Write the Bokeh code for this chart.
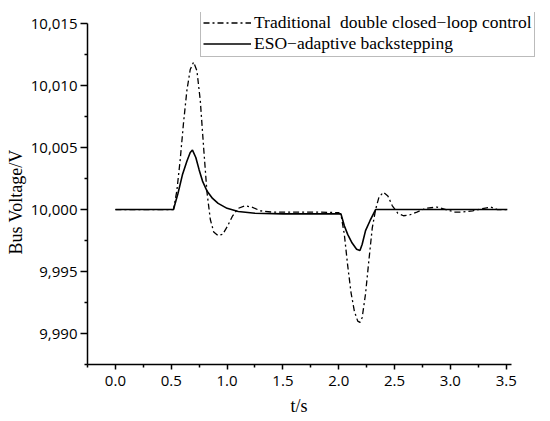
from bokeh.plotting import figure
from bokeh.models import Range1d, FixedTicker, NumeralTickFormatter, Legend, LegendItem
from bokeh.embed import file_html
from bokeh.resources import INLINE

# Data
t_trad = [0.0, 0.52, 0.55, 0.58, 0.61, 0.64, 0.67, 0.70, 0.73, 0.76, 0.79, 0.82, 0.85, 0.88, 0.92, 0.96,
          1.00, 1.05, 1.10, 1.16, 1.22, 1.30, 1.40, 1.60, 1.80, 2.00, 2.02, 2.05, 2.08, 2.11, 2.14, 2.17,
          2.19, 2.21, 2.24, 2.27, 2.30, 2.33, 2.36, 2.40, 2.44, 2.48, 2.53, 2.58, 2.63, 2.70, 2.78, 2.88,
          2.96, 3.04, 3.10, 3.20, 3.30, 3.36, 3.42, 3.51]
v_trad = [10000.0, 10000.0, 10001.5, 10004.0, 10007.0, 10009.6, 10011.3, 10011.9, 10011.2, 10008.8,
          10005.0, 10001.4, 9999.2, 9998.2, 9997.9, 9998.0, 9998.6, 9999.5, 10000.1, 10000.3, 10000.2,
          9999.9, 9999.8, 9999.8, 9999.8, 9999.75, 9999.6, 9998.0, 9995.5, 9993.3, 9991.8, 9991.0,
          9990.9, 9991.3, 9993.2, 9995.9, 9998.5, 10000.0, 10001.0, 10001.4, 10001.1, 10000.3, 9999.7,
          9999.5, 9999.55, 9999.8, 10000.1, 10000.2, 10000.0, 9999.8, 9999.8, 9999.9, 10000.1, 10000.2,
          10000.0, 10000.0]

t_eso = [0.0, 0.52, 0.56, 0.60, 0.64, 0.67, 0.69, 0.72, 0.75, 0.78, 0.82, 0.87, 0.92, 1.00, 1.10, 1.25,
         1.50, 1.80, 2.02, 2.05, 2.08, 2.12, 2.16, 2.19, 2.21, 2.24, 2.28, 2.33, 2.60, 3.00, 3.51]
v_eso = [10000.0, 10000.0, 10001.3, 10002.8, 10003.9, 10004.6, 10004.8, 10004.2, 10003.2, 10002.3,
         10001.5, 10000.9, 10000.5, 10000.1, 9999.85, 9999.7, 9999.65, 9999.65, 9999.65, 9998.7,
         9998.0, 9997.3, 9996.8, 9996.7, 9997.2, 9998.3, 9999.1, 10000.0, 10000.0, 10000.0, 10000.0]

x_ticks = [0.0, 0.5, 1.0, 1.5, 2.0, 2.5, 3.0, 3.5]
x_minor = [-0.25, 0.25, 0.75, 1.25, 1.75, 2.25, 2.75, 3.25]
y_ticks = [9990, 9995, 10000, 10005, 10010, 10015]
y_minor = [9987.5, 9992.5, 9997.5, 10002.5, 10007.5, 10012.5]

x_axis_span = (-0.25, 3.55)
y_axis_span = (9987.5, 10015)

NB = "\u00a0" * 6  # keeps the axis titles centred on the drawn axis spans

p = figure(width=548, height=418, output_backend="svg", toolbar_location=None,
           x_range=Range1d(-0.25, 3.78), y_range=Range1d(9987.5, 10015.9),
           min_border_left=87, min_border_right=11, min_border_top=12, min_border_bottom=54)
p.outline_line_color = None
p.grid.visible = False
p.background_fill_color = "white"

tick_font = "Open Sans"
serif = "Liberation Serif"
label_serif = "Times New Roman"

xa = p.xaxis[0]
ya = p.yaxis[0]
for ax in (xa, ya):
    ax.axis_line_color = "black"
    ax.axis_line_width = 1.5
    ax.major_tick_line_color = "black"
    ax.minor_tick_line_color = "black"
    ax.major_tick_line_width = 1.5
    ax.minor_tick_line_width = 1.5
    ax.major_tick_in = 0
    ax.minor_tick_in = 0
    ax.major_label_text_font = tick_font
    ax.major_label_text_font_size = "15px"
    ax.major_label_text_color = "black"
    ax.axis_label_text_color = "black"
    ax.axis_label_text_font_size = "18px"
    ax.axis_label_text_font_style = "normal"
    ax.axis_label_text_font = label_serif

xa.bounds = x_axis_span
xa.ticker = FixedTicker(ticks=x_ticks, minor_ticks=x_minor)
xa.major_label_overrides = {v: f"{v:.1f}" for v in x_ticks}
xa.major_tick_out = 5
xa.minor_tick_out = 3
xa.major_label_standoff = 6
xa.axis_label = "t/s" + NB
xa.axis_label_standoff = 7

ya.bounds = y_axis_span
ya.ticker = FixedTicker(ticks=y_ticks, minor_ticks=y_minor)
ya.formatter = NumeralTickFormatter(format="0,0")
ya.major_tick_out = 7
ya.minor_tick_out = 3
ya.major_label_standoff = 3
ya.axis_label = "Bus Voltage/V" + NB
ya.axis_label_standoff = 2

r1 = p.line(t_trad, v_trad, line_color="black", line_width=1.3, line_dash="6 3 2 3")
r2 = p.line(t_eso, v_eso, line_color="black", line_width=1.6)

legend = Legend(items=[LegendItem(label="Traditional  double closed\u2212loop control", renderers=[r1]),
                       LegendItem(label="ESO\u2212adaptive backstepping", renderers=[r2])],
                location=(113, 307))
legend.label_text_font = serif
legend.label_text_font_size = "17.5px"
legend.label_text_color = "black"
legend.border_line_color = "#777777"
legend.border_line_width = 1
legend.background_fill_alpha = 1
legend.padding = 2
legend.margin = 0
legend.spacing = 0
legend.glyph_width = 48
legend.glyph_height = 21
legend.label_height = 21
legend.label_standoff = 3
legend.label_text_line_height = 1.0
p.add_layout(legend)

open("out.html", "w").write(file_html(p, INLINE))
